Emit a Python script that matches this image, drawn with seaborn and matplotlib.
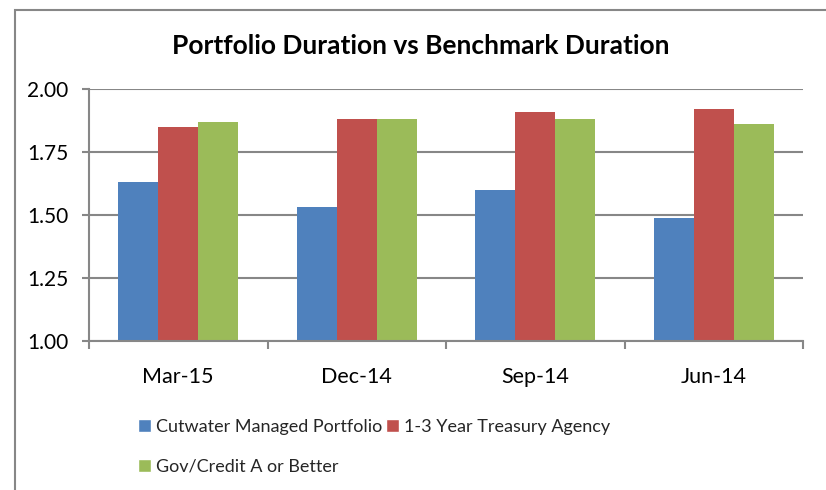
import matplotlib
matplotlib.use("Agg")
import matplotlib.pyplot as plt
import seaborn as sns
import pandas as pd
from matplotlib.patches import Rectangle, Patch

categories = ["Mar-15", "Dec-14", "Sep-14", "Jun-14"]
series_names = ["Cutwater Managed Portfolio", "1-3 Year Treasury Agency", "Gov/Credit A or Better"]
portfolio = [1.63, 1.53, 1.60, 1.49]
treasury = [1.85, 1.88, 1.91, 1.92]
govcredit = [1.87, 1.88, 1.88, 1.86]
colors = ["#4F81BD", "#C0504D", "#9BBB59"]
y_ticks = [1.00, 1.25, 1.50, 1.75, 2.00]

rows = []
for name, vals in zip(series_names, [portfolio, treasury, govcredit]):
    for c, v in zip(categories, vals):
        rows.append({"Period": c, "Series": name, "Duration": v})
df = pd.DataFrame(rows)

sns.set_theme(style="white")
plt.rcParams["font.family"] = ["Lato", "DejaVu Sans"]

fig = plt.figure(figsize=(8.26, 4.9), dpi=100)
ax = fig.add_axes([89/826, 1-341/490, (803-89)/826, (341-89)/490])

sns.barplot(data=df, x="Period", y="Duration", hue="Series", order=categories,
            hue_order=series_names, palette=colors, width=0.67, gap=0,
            saturation=1, edgecolor="none", linewidth=0, ax=ax, legend=False)

ax.set_ylim(1.0, 2.0)
ax.set_xlim(-0.5, len(categories) - 0.5)
ax.set_yticks(y_ticks)
ax.set_yticklabels([f"{t:.2f}" for t in y_ticks])
ax.set_xlabel("")
ax.set_ylabel("")
ax.yaxis.grid(True, color="#878787", linewidth=1.5)
ax.set_axisbelow(True)
for s in ["top", "right"]:
    ax.spines[s].set_visible(False)
for s in ["left", "bottom"]:
    ax.spines[s].set_color("#878787")
    ax.spines[s].set_linewidth(1.5)

ax.tick_params(axis="y", which="major", length=5, width=1.5, color="#878787",
               labelsize=15, pad=10, left=True, labelcolor="black")
ax.set_xticks(range(len(categories)))
ax.set_xticklabels(categories)
ax.tick_params(axis="x", which="major", length=0, labelsize=15.5, pad=19, labelcolor="black")
ax.set_xticks([i - 0.5 for i in range(len(categories) + 1)], minor=True)
ax.tick_params(axis="x", which="minor", length=6, width=1.5, color="#878787", bottom=True)

fig.text(421/826, 1-46/490, "Portfolio Duration vs Benchmark Duration",
         ha="center", va="center", fontsize=19, fontweight="bold", color="black")

# outer chart frame
fig.patches.append(Rectangle((15/826, -0.1), 1.2, 1 - 10/490 + 0.1, transform=fig.transFigure,
                             fill=False, edgecolor="#878787", linewidth=1.5))

handles = [Patch(facecolor=colors[0]), Patch(facecolor=colors[2]), Patch(facecolor=colors[1])]
labels = [series_names[0], series_names[2], series_names[1]]
fig.legend(handles, labels, ncol=2, loc="upper left", bbox_to_anchor=(129/826, 1-410/490),
           frameon=False, fontsize=13, handlelength=0.7, handleheight=0.7,
           handletextpad=0.3, columnspacing=0.2, labelspacing=1.3, borderpad=0)

fig.savefig("out.png", dpi=100)
